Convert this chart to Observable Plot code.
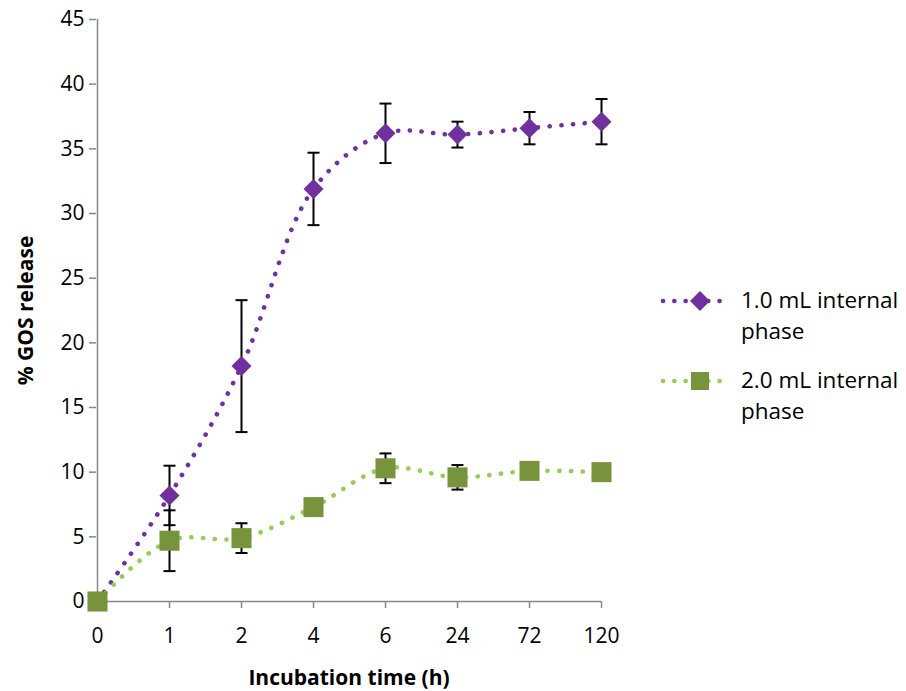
<!DOCTYPE html>
<html>
<head>
<meta charset="utf-8">
<script src="https://cdn.jsdelivr.net/npm/d3@7"></script>
<script src="https://cdn.jsdelivr.net/npm/@observablehq/plot@0.6"></script>
<style>
  html, body { margin: 0; padding: 0; background: #fff; }
  #wrap { position: relative; width: 906px; height: 691px; font-family: "Open Sans", sans-serif; }
  #chart { position: absolute; left: 0; top: 0; }
  #legend { position: absolute; left: 660px; top: 284px; font-size: 22.5px; color: #000; line-height: 31px; }
  .item { display: flex; align-items: flex-start; margin-bottom: 18px; }
  .item svg { flex: none; margin-top: 4px; }
  .item span { margin-left: 8px; width: 180px; }
</style>
</head>
<body>
<div id="wrap">
  <div id="chart"></div>
  <div id="legend"></div>
</div>
<script>
// categories (incubation time, h)
const times = ["0", "1", "2", "4", "6", "24", "72", "120"];
// series: 1.0 mL internal phase
const s1Name = "1.0 mL internal phase";
const s1Values = [0, 8.2, 18.2, 31.9, 36.2, 36.1, 36.6, 37.1];
const s1Errors = [0, 2.3, 5.1, 2.8, 2.3, 1.0, 1.25, 1.75];
// series: 2.0 mL internal phase
const s2Name = "2.0 mL internal phase";
const s2Values = [0, 4.7, 4.9, 7.3, 10.3, 9.6, 10.1, 10.0];
const s2Errors = [0, 2.35, 1.15, 0.3, 1.15, 0.95, 0.4, 0.3];
// y ticks
const yTicks = [0, 5, 10, 15, 20, 25, 30, 35, 40, 45];

const c1Line = "#7030A0", c1Mark = "#7030A0";
const c2Line = "#92D050", c2Mark = "#77933C";

const rows = (vals, errs, name) => times.map((t, i) => ({t, v: vals[i], lo: vals[i] - errs[i], hi: vals[i] + errs[i], e: errs[i], name}));
const d1 = rows(s1Values, s1Errors, s1Name);
const d2 = rows(s2Values, s2Errors, s2Name);

const cap = { draw(ctx) { ctx.moveTo(-6, 0); ctx.lineTo(6, 0); } };
const dotted = {strokeWidth: 4.6, strokeDasharray: "0.1,11.6", strokeLinecap: "round", curve: "catmull-rom"};
const axisColor = "#888888";

function errMarks(d) {
  const dd = d.filter(r => r.e > 0);
  return [
    Plot.ruleX(dd, {x: "t", y1: "lo", y2: "hi", stroke: "#000", strokeWidth: 2}),
    Plot.dot(dd, {x: "t", y: "lo", symbol: cap, r: 4, stroke: "#000", strokeWidth: 2, fill: "none"}),
    Plot.dot(dd, {x: "t", y: "hi", symbol: cap, r: 4, stroke: "#000", strokeWidth: 2, fill: "none"})
  ];
}

const W = 640, H = 691;
const chart = Plot.plot({
  width: W, height: H,
  marginLeft: 96, marginRight: W - 601, marginTop: 19, marginBottom: H - 601,
  style: {fontFamily: "Open Sans, sans-serif", fontSize: "21px", color: "#000", background: "#fff"},
  x: {type: "point", domain: times, padding: 0},
  y: {domain: [0, 45]},
  marks: [
    Plot.ruleX([times[0]], {stroke: axisColor, strokeWidth: 1.5}),
    Plot.ruleY([0], {stroke: axisColor, strokeWidth: 1.5}),
    Plot.axisY({ticks: yTicks, tickSize: 7, tickPadding: 5, stroke: axisColor, strokeWidth: 1.5, fill: "#000",
      label: "% GOS release", labelAnchor: "center", labelArrow: "none", labelOffset: 78,
      fontSize: 21}),
    Plot.axisX({tickSize: 7, tickPadding: 20, stroke: axisColor, strokeWidth: 1.5, fill: "#000",
      label: "Incubation time (h)", labelAnchor: "center", labelArrow: "none", labelOffset: 83, fontSize: 21}),
    ...errMarks(d1),
    ...errMarks(d2),
    Plot.line(d1, {x: "t", y: "v", stroke: c1Line, ...dotted}),
    Plot.line(d2, {x: "t", y: "v", stroke: c2Line, ...dotted}),
    Plot.dot(d1, {x: "t", y: "v", symbol: "diamond2", r: 9, fill: c1Mark, stroke: "none"}),
    Plot.dot(d2, {x: "t", y: "v", symbol: "square", r: 11.3, fill: c2Mark, stroke: "none"})
  ]
});
// bold axis titles
chart.querySelectorAll("g[aria-label='y-axis label'] text, g[aria-label='x-axis label'] text").forEach(t => {
  t.setAttribute("font-weight", "bold");
});
document.getElementById("chart").appendChild(chart);

// legend
const legendItems = [
  {name: s1Name, line: c1Line, mark: c1Mark, shape: "diamond"},
  {name: s2Name, line: c2Line, mark: c2Mark, shape: "square"}
];
const leg = d3.select("#legend");
legendItems.forEach(it => {
  const row = leg.append("div").attr("class", "item");
  const s = row.append("svg").attr("width", 73).attr("height", 26);
  s.append("line").attr("x1", 3).attr("x2", 70).attr("y1", 13).attr("y2", 13)
    .attr("stroke", it.line).attr("stroke-width", 4.6).attr("stroke-dasharray", "0.1,11.2").attr("stroke-linecap", "round");
  if (it.shape === "diamond") {
    s.append("path").attr("d", "M40,3L50,13L40,23L30,13Z").attr("fill", it.mark);
  } else {
    s.append("rect").attr("x", 31).attr("y", 4).attr("width", 18).attr("height", 18).attr("fill", it.mark);
  }
  row.append("span").text(it.name);
});
</script>
</body>
</html>
